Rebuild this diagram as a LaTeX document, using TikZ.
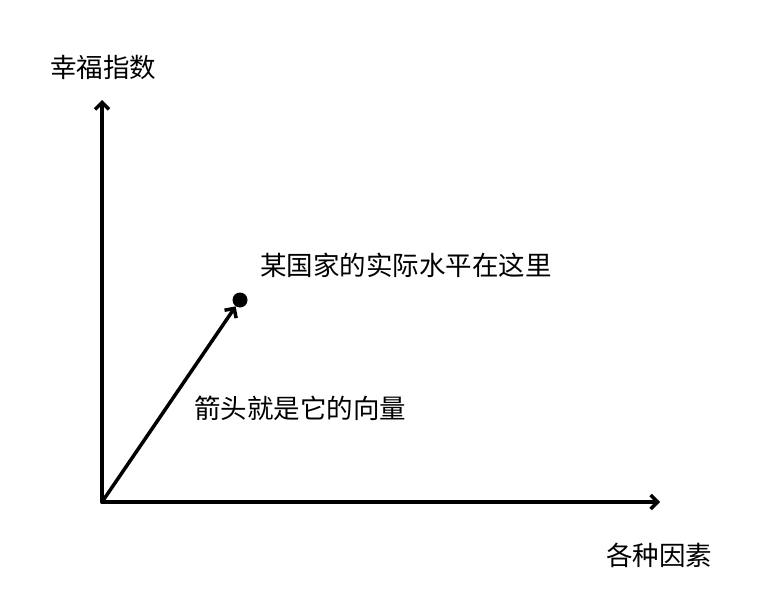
\documentclass[tikz,border=0pt]{standalone}
\usepackage{fontspec}
\newfontfamily\cjk{Noto Sans CJK SC}
\usetikzlibrary{arrows.meta}
\begin{document}
\begin{tikzpicture}[x=1pt,y=-1pt,
  axis/.style={line width=3.5pt,line cap=round,line join=round,-{Straight Barb[length=7pt,width=14pt,line width=3.5pt]}},
  lbl/.style={font=\cjk\fontsize{26.5}{30}\selectfont,inner sep=0pt}]
\useasboundingbox[fill=white] (0,0) rectangle (760,610);
\coordinate (O) at (102,502);
\coordinate (Y) at (102,100);
\coordinate (X) at (660,502);
\node[circle,fill=black,inner sep=0pt,minimum size=15pt] (P) at (240,300) {};
\draw[axis] (O) -- (Y);
\draw[axis] (O) -- (X);
\draw[axis] (O) -- (P);
\node[lbl] (ylab) at (103,67) {幸福指数};
\node[lbl] (xlab) at (659,555) {各种因素};
\node[lbl,anchor=west] (plab) at (260,265) {某国家的实际水平在这里};
\node[lbl,anchor=west] (vlab) at (194,408) {箭头就是它的向量};
\end{tikzpicture}
\end{document}
